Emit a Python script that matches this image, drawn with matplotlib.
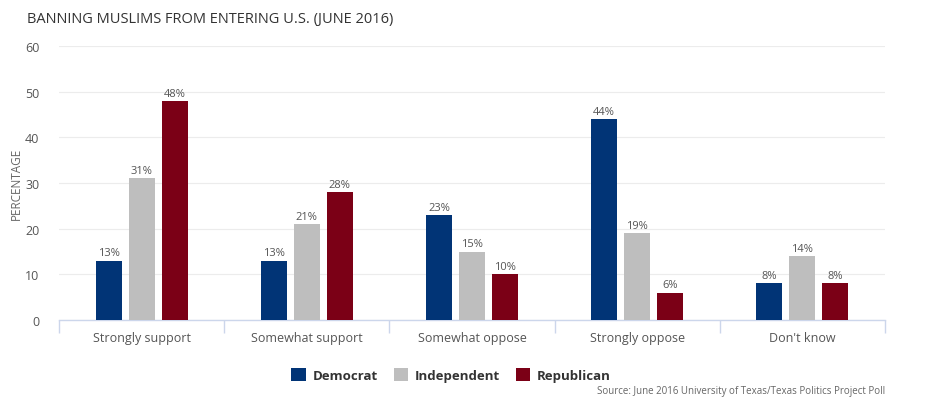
import matplotlib.pyplot as plt
import numpy as np

categories = ["Strongly support", "Somewhat support", "Somewhat oppose", "Strongly oppose", "Don't know"]
series = ["Democrat", "Independent", "Republican"]
democrat = [13, 13, 23, 44, 8]
independent = [31, 21, 15, 19, 14]
republican = [48, 28, 10, 6, 8]
colors = ["#013476", "#bebebe", "#7b0016"]

plt.rcParams['font.family'] = ['Open Sans', 'DejaVu Sans']

fig = plt.figure(figsize=(9.25, 4.02), dpi=100)
ax = fig.add_axes([59/925, 1 - 321/402, 826/925, 274/402])

x = np.arange(len(categories))
width = 0.157
offsets = [-0.2, 0, 0.2]
for vals, name, col, off in zip([democrat, independent, republican], series, colors, offsets):
    bars = ax.bar(x + off, vals, width, color=col, label=name, zorder=3)
    for b, v in zip(bars, vals):
        ax.text(b.get_x() + b.get_width() / 2, v + 0.5, f"{v}%", ha='center', va='bottom',
                fontsize=8, color='#555555', zorder=4)

ax.set_xlim(-0.5, len(categories) - 0.5)
ax.set_ylim(0, 60)
ax.set_yticks(range(0, 61, 10))
ax.yaxis.grid(True, color='#ececec', linewidth=0.8, zorder=0)
ax.set_axisbelow(True)

for s in ['top', 'right', 'left']:
    ax.spines[s].set_visible(False)
ax.spines['bottom'].set_color('#ccd6eb')
ax.spines['bottom'].set_linewidth(1)

ax.set_xticks(x)
ax.set_xticklabels(categories, fontsize=9, color='#555555')
ax.tick_params(axis='x', length=0, pad=8)
ax.set_xticks(np.arange(-0.5, len(categories)), minor=True)
ax.tick_params(axis='x', which='minor', length=9, color='#ccd6eb', width=1)
ax.tick_params(axis='y', length=0, labelsize=9, labelcolor='#555555', pad=14)

ax.set_ylabel("PERCENTAGE", fontsize=8.5, color='#666666', labelpad=2)

fig.text(27/925, 1 - 20/402, "BANNING MUSLIMS FROM ENTERING U.S. (JUNE 2016)", fontsize=10.5,
         color='#333333', va='center', ha='left')

leg = fig.legend(loc='center', bbox_to_anchor=(451/925, 1 - 376/402), ncol=3, frameon=False,
                 prop={'weight': 'bold', 'size': 9.5}, handlelength=1.1, handleheight=1.1,
                 handletextpad=0.5, columnspacing=1.2)
for t in leg.get_texts():
    t.set_color('#333333')

fig.text(885/925, 1 - 392/402, "Source: June 2016 University of Texas/Texas Politics Project Poll",
         fontsize=7, color='#666666', ha='right', va='center')

fig.savefig("out.png", dpi=100)
